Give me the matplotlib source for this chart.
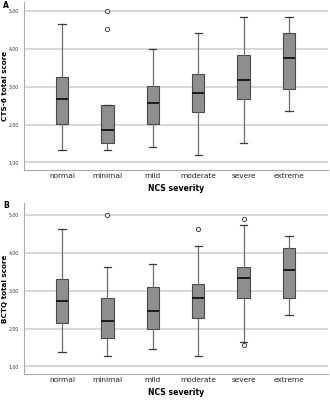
import matplotlib
matplotlib.use('Agg')
import matplotlib.pyplot as plt

categories = ['normal', 'minimal', 'mild', 'moderate', 'severe', 'extreme']

# panel A: CTS-6 total score (whislo, q1, med, q3, whishi, outliers)
cts_low = [1.34, 1.34, 1.41, 1.19, 1.51, 2.35]
cts_q1 = [2.01, 1.51, 2.01, 2.34, 2.68, 2.93]
cts_med = [2.67, 1.85, 2.56, 2.84, 3.18, 3.76]
cts_q3 = [3.26, 2.51, 3.01, 3.34, 3.84, 4.43]
cts_high = [4.67, 2.51, 4.01, 4.41, 4.85, 4.85]
cts_fliers = [[], [5.0, 4.52], [], [], [], []]

# panel B: BCTQ total score
bctq_low = [1.37, 1.28, 1.46, 1.28, 1.64, 2.37]
bctq_q1 = [2.14, 1.74, 2.00, 2.28, 2.82, 2.82]
bctq_med = [2.73, 2.20, 2.46, 2.82, 3.35, 3.54]
bctq_q3 = [3.31, 2.82, 3.11, 3.18, 3.63, 4.13]
bctq_high = [4.63, 3.63, 3.72, 4.18, 4.74, 4.45]
bctq_fliers = [[], [5.0], [], [4.63], [4.90, 1.56], []]

yticks = [1, 2, 3, 4, 5]
ytick_labels = ['1,00', '2,00', '3,00', '4,00', '5,00']


def make_stats(low, q1, med, q3, high, fliers):
    stats = []
    for i in range(len(low)):
        stats.append({'whislo': low[i], 'q1': q1[i], 'med': med[i],
                      'q3': q3[i], 'whishi': high[i], 'fliers': fliers[i]})
    return stats


def draw_panel(ax, stats, ylabel, ylim):
    ax.yaxis.grid(True, color='#d4d4d4', lw=1.3, zorder=0)
    ax.set_axisbelow(True)
    ax.bxp(stats, positions=range(1, 7), widths=0.27, patch_artist=True,
           boxprops=dict(facecolor='#8f8f8f', edgecolor='#4a4a4a', lw=0.8),
           medianprops=dict(color='#1a1a1a', lw=1.4),
           whiskerprops=dict(color='#6e6e6e', lw=0.9),
           capprops=dict(color='#3a3a3a', lw=0.9),
           capwidths=0.16,
           flierprops=dict(marker='o', markersize=3, markerfacecolor='white',
                           markeredgecolor='#444444', markeredgewidth=0.7))
    ax.set_xlim(0.16, 6.86)
    ax.set_ylim(*ylim)
    ax.set_yticks(yticks)
    ax.set_yticklabels(ytick_labels, fontsize=3.3, color='#333333')
    ax.set_xticks(range(1, 7))
    ax.set_xticklabels(categories, fontsize=5.3, color='#222222')
    ax.tick_params(axis='x', length=0, pad=2)
    ax.tick_params(axis='y', length=0, pad=3.5)
    ax.set_ylabel(ylabel, fontsize=5.2, fontweight='bold', va='center')
    ax.yaxis.set_label_coords(-0.064, 0.5)
    ax.set_xlabel('NCS severity', fontsize=5.6, fontweight='bold', labelpad=4)
    for s in ['top', 'right']:
        ax.spines[s].set_visible(False)
    for s in ['left', 'bottom']:
        ax.spines[s].set_color('#aaaaaa')
        ax.spines[s].set_linewidth(0.8)


fig = plt.figure(figsize=(3.3, 4.0), dpi=100)
ax1 = fig.add_axes([24 / 330, 1 - 170 / 400, 304 / 330, 168 / 400])
ax2 = fig.add_axes([24 / 330, 1 - 374 / 400, 304 / 330, 171 / 400])

draw_panel(ax1, make_stats(cts_low, cts_q1, cts_med, cts_q3, cts_high, cts_fliers),
           'CTS-6 total score', (0.80, 5.24))
draw_panel(ax2, make_stats(bctq_low, bctq_q1, bctq_med, bctq_q3, bctq_high, bctq_fliers),
           'BCTQ total score', (0.80, 5.32))

fig.text(3 / 330, 1 - 6 / 400, 'A', fontsize=5.5, fontweight='bold', va='center')
fig.text(3 / 330, 1 - 206 / 400, 'B', fontsize=5.5, fontweight='bold', va='center')

fig.savefig('out.png', dpi=100)
